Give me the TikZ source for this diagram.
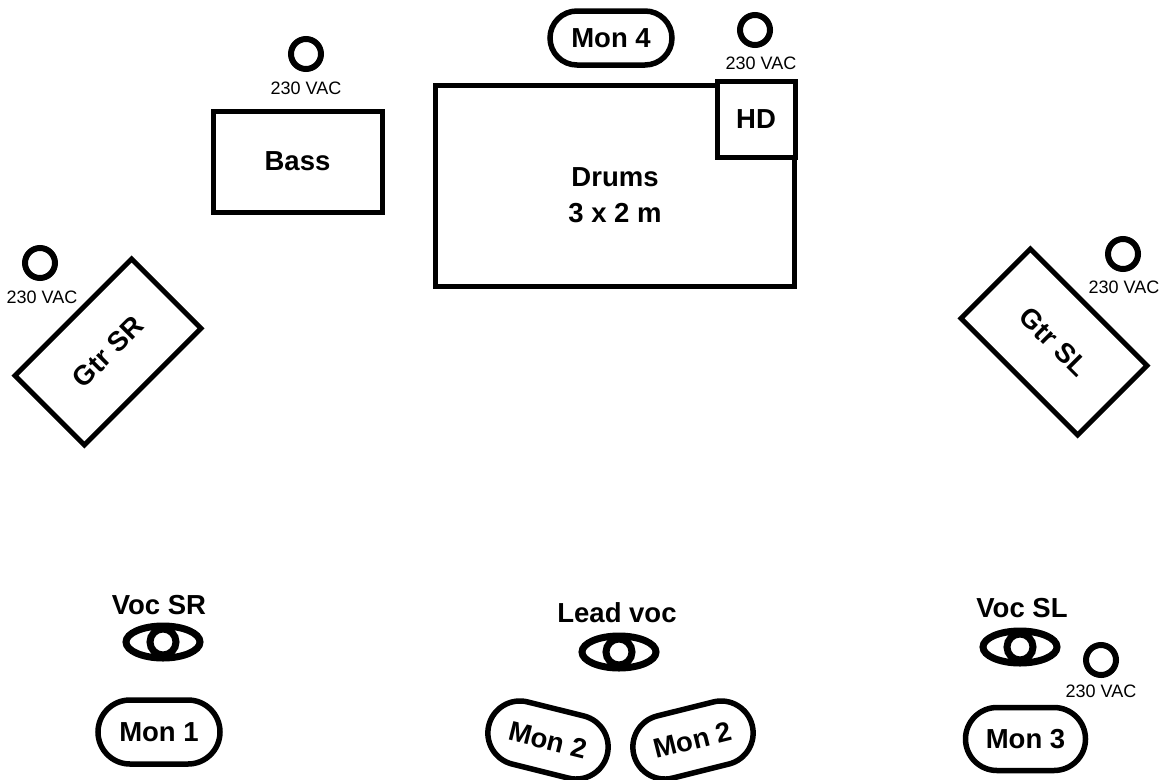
\documentclass[tikz,border=0pt]{standalone}
\usepackage{fontspec}
\setmainfont{Liberation Sans}
\usetikzlibrary{shapes.geometric,shapes.misc}

\begin{document}
\begin{tikzpicture}[x=1pt,y=-1pt,
    box/.style={draw=black,line width=5pt,inner sep=0pt,font=\bfseries\fontsize{27.5}{36}\selectfont,align=center},
    mon/.style={draw=black,rounded rectangle,line width=5.5pt,inner sep=0pt,minimum width=122pt,minimum height=64pt,font=\bfseries\fontsize{27.5}{32}\selectfont},
    mic/.style={draw=black,ellipse,line width=7pt,inner sep=0pt,minimum width=74pt,minimum height=32pt},
    outlet/.style={draw=black,circle,line width=6pt,inner sep=0pt,minimum size=30pt},
    vac/.style={inner sep=0pt,font=\fontsize{18}{20}\selectfont},
    lbl/.style={inner sep=0pt,font=\bfseries\fontsize{27.5}{36}\selectfont,align=center}]
    \useasboundingbox (0,0) rectangle (1166,779);
    % backline
    \node [box,minimum width=169pt,minimum height=101pt] (bass) at (297.5,161.5) {Bass};
    \node [box,minimum width=359pt,minimum height=201pt] (drums) at (614.5,185.5) {};
    \node [lbl] (drumstxt) at (615,195) {Drums\\3 x 2 m};
    \node [box,fill=white,minimum width=78pt,minimum height=76pt] (hd) at (756,119) {HD};
    \node [mon,minimum height=54pt] (mon4) at (611,38) {Mon 4};
    \node [box,rotate=45,minimum width=165pt,minimum height=98pt] (gtrsr) at (108,352) {Gtr SR};
    \node [box,rotate=-45,minimum width=165pt,minimum height=98pt] (gtrsl) at (1054,342) {Gtr SL};
    % power
    \node [outlet] (pwrbass) at (306,54) {};
    \node [vac] (vacbass) at (306,88) {230 VAC};
    \node [outlet] (pwrhd) at (755,30) {};
    \node [vac] (vachd) at (761,63) {230 VAC};
    \node [outlet] (pwrsr) at (40,263) {};
    \node [vac] (vacsr) at (42,297) {230 VAC};
    \node [outlet] (pwrsl) at (1123,254) {};
    \node [vac] (vacsl) at (1124,287) {230 VAC};
    \node [outlet] (pwrvoc) at (1101,660) {};
    \node [vac] (vacvoc) at (1101,691) {230 VAC};
    % vocals
    \node [lbl] (vocsrtxt) at (159,605) {Voc SR};
    \node [mic] (vocsr) at (163,642) {};
    \draw [line width=7pt] (vocsr.center) circle (13pt);
    \node [lbl] (leadtxt) at (617,613) {Lead voc};
    \node [mic] (lead) at (619,652) {};
    \draw [line width=7pt] (lead.center) circle (13pt);
    \node [lbl] (vocsltxt) at (1022,608) {Voc SL};
    \node [mic] (vocsl) at (1020,647) {};
    \draw [line width=7pt] (vocsl.center) circle (13pt);
    % wedges
    \node [mon] (mon1) at (159,732) {Mon 1};
    \node [mon,rotate=-14] (mon2a) at (548,740) {Mon 2};
    \node [mon,rotate=14] (mon2b) at (693,740) {Mon 2};
    \node [mon,minimum width=120pt,minimum height=63pt] (mon3) at (1025.5,739) {Mon 3};
\end{tikzpicture}
\end{document}
